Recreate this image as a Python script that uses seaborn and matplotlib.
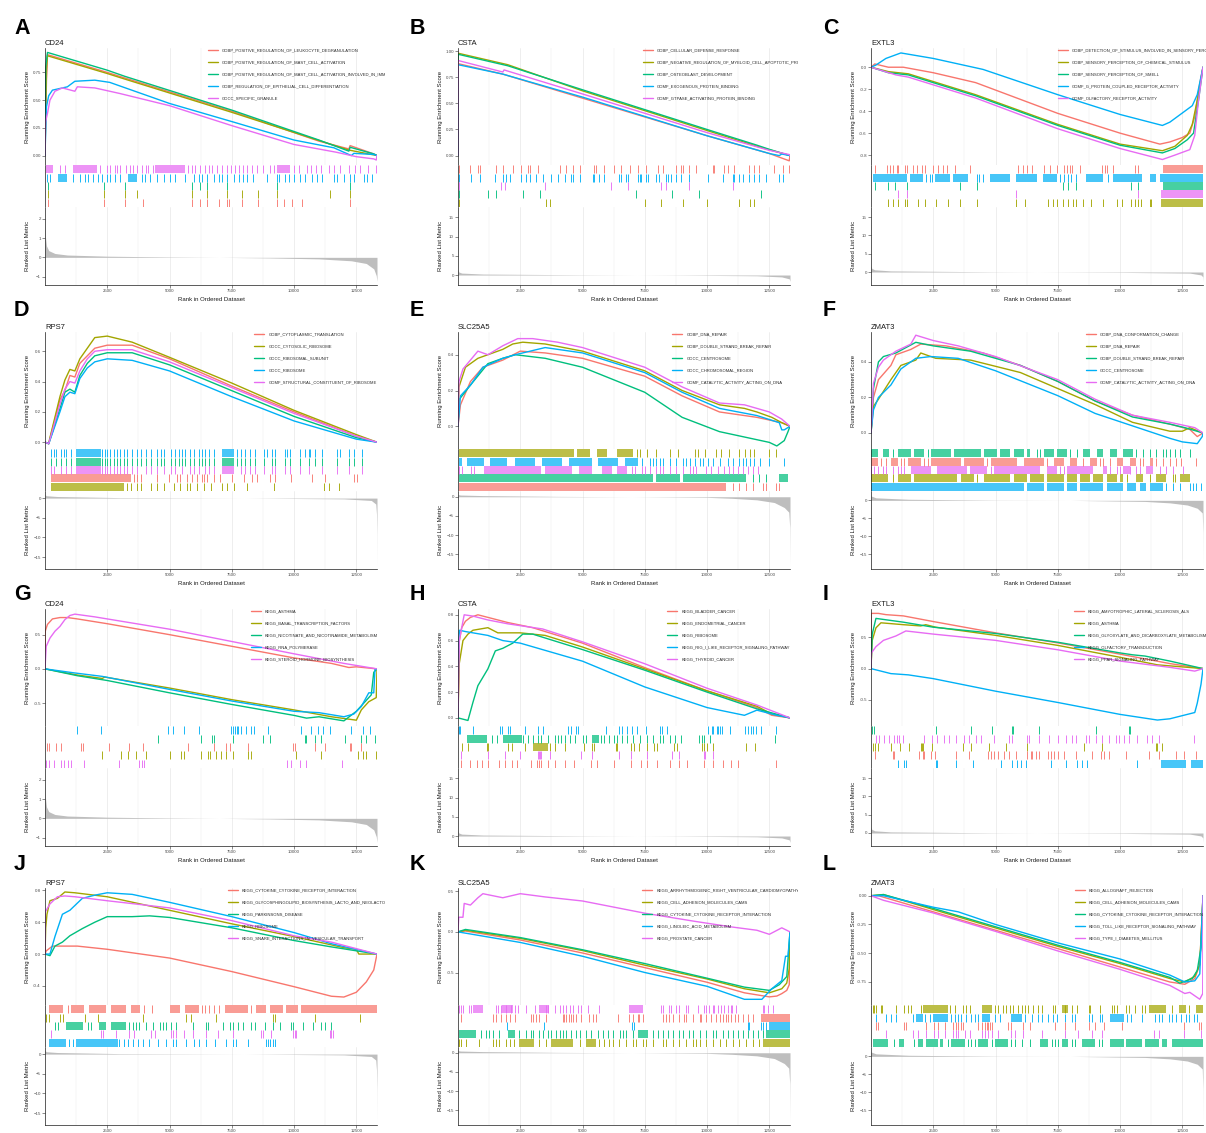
import matplotlib
matplotlib.use('Agg')
import matplotlib.pyplot as plt
from matplotlib.ticker import FuncFormatter
from matplotlib.transforms import Bbox
import pandas as pd
import seaborn as sns

N_GENES = 13330
HUE = ['#F8766D', '#A3A500', '#00BF7D', '#00B0F6', '#E76BF3']
RANK_MAJOR = [2500, 5000, 7500, 10000, 12500]
RANK_MINOR = [1250, 3750, 6250, 8750, 11250]

# ---------------- ranked list metrics (rank, value), one per gene ----------------
cd24_metric = [(1, 2.43), (4, 1.6), (15, 1.1), (60, 0.6), (150, 0.35), (400, 0.2), (900, 0.12),
               (2500, 0.06), (5000, 0.02), (7000, 0.0), (9000, -0.03), (11000, -0.08),
               (12300, -0.18), (12900, -0.32), (13200, -0.6), (13300, -0.95), (13330, -1.25)]
csta_metric = [(1, 16.8), (4, 1.4), (30, 0.8), (150, 0.5), (1000, 0.25), (5000, 0.06),
               (9000, -0.05), (12000, -0.2), (13000, -0.5), (13300, -1.0), (13330, -1.65)]
extl3_metric = [(1, 16.7), (4, 1.6), (30, 1.0), (150, 0.6), (800, 0.3), (5000, 0.05),
                (10000, -0.1), (12800, -0.3), (13250, -0.8), (13320, -1.3), (13330, -2.55)]
rps7_metric = [(1, 0.9), (50, 0.6), (500, 0.4), (3000, 0.12), (8000, 0.0), (12000, -0.2),
               (13100, -0.6), (13280, -1.5), (13310, -4.0), (13325, -9.0), (13330, -17.1)]
slc25a5_metric = [(1, 0.57), (100, 0.45), (1000, 0.3), (4000, 0.1), (7000, 0.0), (10000, -0.15),
                  (11000, -0.4), (12000, -0.8), (12700, -1.5), (13100, -2.8), (13280, -4.0),
                  (13320, -8.0), (13330, -17.9)]
zmat3_metric = [(1, 1.6), (10, 1.2), (200, 0.7), (1500, 0.3), (5000, 0.05), (8000, 0.0),
                (11000, -0.3), (12000, -0.7), (12700, -1.3), (13100, -2.2), (13300, -3.5),
                (13325, -9.0), (13330, -18.1)]

cd24_mlim, cd24_mticks = (-1.44, 2.62), [-1, 0, 1, 2]
csta_mlim, csta_mticks = (-2.6, 17.7), [0, 5, 10, 15]
extl3_mlim, extl3_mticks = (-3.55, 17.75), [0, 5, 10, 15]
rps7_mlim, rps7_mticks = (-18.0, 1.8), [-15, -10, -5, 0]
slc25a5_mlim, slc25a5_mticks = (-18.8, 1.5), [-15, -10, -5, 0]
zmat3_mlim, zmat3_mticks = (-19.1, 2.6), [-15, -10, -5, 0]

# ---------------- A: CD24 (GO) ----------------
A_sets = ['GOBP_POSITIVE_REGULATION_OF_LEUKOCYTE_DEGRANULATION',
          'GOBP_POSITIVE_REGULATION_OF_MAST_CELL_ACTIVATION',
          'GOBP_POSITIVE_REGULATION_OF_MAST_CELL_ACTIVATION_INVOLVED_IN_IMMUNE_RESPONSE',
          'GOBP_REGULATION_OF_EPITHELIAL_CELL_DIFFERENTIATION',
          'GOCC_SPECIFIC_GRANULE']
A_es = [
    [(0, 0), (60, 0.68), (80, 0.78), (100, 0.91), (2500, 0.75), (3200, 0.70), (7500, 0.40), (11000, 0.13), (12200, 0.06), (12250, 0.09), (13200, 0.015), (13330, 0)],
    [(0, 0), (60, 0.78), (100, 0.90), (2500, 0.74), (3200, 0.69), (7500, 0.39), (11500, 0.10), (12200, 0.05), (13330, 0)],
    [(0, 0), (30, 0.80), (100, 0.93), (2500, 0.77), (3200, 0.715), (7500, 0.41), (11000, 0.14), (12200, 0.04), (12250, 0.075), (13200, 0.015), (13330, 0)],
    [(0, 0), (60, 0.44), (150, 0.54), (300, 0.59), (900, 0.62), (1200, 0.67), (2000, 0.68), (2600, 0.66), (5000, 0.47), (7600, 0.30), (10000, 0.14), (11600, 0.07), (12300, 0.0), (12400, 0.02), (13200, 0.01), (13330, 0)],
    [(0, 0), (20, 0.30), (100, 0.38), (200, 0.50), (400, 0.58), (700, 0.61), (1200, 0.58), (1300, 0.62), (2000, 0.61), (3000, 0.56), (5000, 0.45), (7500, 0.27), (10000, 0.10), (11700, 0.03), (12500, -0.01), (13200, -0.03), (13300, -0.04), (13330, 0)],
]
A_hits = [
    [130, 2350, 3220, 3930, 5900, 6230, 6500, 7000, 7300, 7380, 7900, 8540, 9310, 9580, 9920, 10320, 12230],
    [130, 2350, 3220, 3690, 5900, 6500, 7300, 7900, 8540, 9310, 11430, 12230],
    [130, 2350, 3220, 5900, 6230, 6500, 7300, 9310, 12230],
    [70, 200, 1140, 1400, 1610, 1740, 1940, 2140, 2280, 2480, 2610, 2810, 3020, 3890, 4020, 4220, 4490, 4760, 5030, 5230, 5630, 5970, 6170, 6300, 6500, 6770, 6970, 7100, 7300, 7570, 7770, 7970, 8110, 8370, 8910, 9310, 9380, 9650, 9780, 9980, 10250, 10450, 10720, 10920, 11120, 11590, 11730, 11990, 12260, 12400, 12800, 12930, 13130],
    [600, 800, 2200, 2480, 2600, 2830, 2900, 3030, 3250, 3400, 3550, 3700, 3900, 4050, 4150, 4350, 5750, 5900, 6040, 6220, 6430, 6600, 6700, 6900, 7100, 7300, 7450, 7620, 7770, 7950, 8100, 8300, 8500, 8750, 9050, 9200, 10000, 10200, 10500, 10700, 10900, 11100, 11400, 11600, 11850, 12200, 12450, 12650, 12950, 13300],
]
A_runs = [[], [], [], [(540, 870), (3350, 3690)], [(60, 330), (1140, 2080), (4420, 5630), (9310, 9850)]]
A_rows = [4, 3, 2, 1, 0]
A_ylim, A_yticks, A_dec = (-0.085, 0.97), [0, 0.25, 0.5, 0.75], 2

# ---------------- B: CSTA (GO) ----------------
B_sets = ['GOBP_CELLULAR_DEFENSE_RESPONSE',
          'GOBP_NEGATIVE_REGULATION_OF_MYELOID_CELL_APOPTOTIC_PROCESS',
          'GOBP_OSTEOBLAST_DEVELOPMENT',
          'GOMF_EXOGENOUS_PROTEIN_BINDING',
          'GOMF_GTPASE_ACTIVATING_PROTEIN_BINDING']
B_es = [
    [(0, 0), (10, 0.88), (1800, 0.78), (5000, 0.55), (10000, 0.19), (12500, 0.02), (13300, -0.05), (13330, 0)],
    [(0, 0), (5, 0.98), (2000, 0.87), (5000, 0.62), (10000, 0.24), (12000, 0.09), (13330, 0)],
    [(0, 0), (5, 0.97), (2000, 0.86), (5000, 0.63), (10000, 0.25), (12000, 0.10), (12500, 0.06), (13330, 0)],
    [(0, 0), (10, 0.87), (1800, 0.78), (5000, 0.56), (10000, 0.19), (12500, 0.02), (12900, 0.0), (13000, 0.015), (13330, 0)],
    [(0, 0), (10, 0.91), (1800, 0.80), (1850, 0.82), (5000, 0.59), (10000, 0.22), (12500, 0.05), (13300, 0.01), (13330, 0)],
]
B_hits = [
    [40, 470, 800, 870, 1540, 1800, 2210, 2540, 2810, 2880, 3210, 4080, 4350, 4610, 4880, 5480, 5550, 5880, 6280, 6550, 6890, 7220, 7560, 8020, 8220, 8760, 8960, 9030, 9290, 9560, 10230, 10290, 10700, 10830, 11100, 11700, 11900, 12100, 12700, 13040, 13300],
    [40, 3520, 3680, 7510, 8160, 9030, 9990, 11270, 11740, 11870],
    [40, 1200, 1510, 2610, 3280, 7150, 8600, 9690, 12170],
    [40, 530, 870, 1470, 1800, 1940, 2070, 2540, 2740, 2880, 3140, 3410, 3740, 4010, 4280, 4550, 4610, 4880, 5410, 5480, 5680, 5880, 6480, 6550, 6750, 6820, 7220, 7290, 7350, 7560, 7620, 7960, 8090, 8360, 8420, 8560, 8760, 8960, 9290, 10030, 10630, 11030, 11100, 11300, 11430, 11700, 11900, 12100, 12370, 12900, 13040],
    [40, 1740, 1870, 3480, 6150, 6820, 8160, 8360, 9290, 11030],
]
B_runs = [[], [], [], [], []]
B_rows = [0, 3, 4, 2, 1]
B_ylim, B_yticks, B_dec = (-0.09, 1.03), [0, 0.25, 0.5, 0.75, 1.0], 2

# ---------------- C: EXTL3 (GO) ----------------
C_sets = ['GOBP_DETECTION_OF_STIMULUS_INVOLVED_IN_SENSORY_PERCEPTION',
          'GOBP_SENSORY_PERCEPTION_OF_CHEMICAL_STIMULUS',
          'GOBP_SENSORY_PERCEPTION_OF_SMELL',
          'GOMF_G_PROTEIN_COUPLED_RECEPTOR_ACTIVITY',
          'GOMF_OLFACTORY_RECEPTOR_ACTIVITY']
C_es = [
    [(0, 0), (150, 0.03), (700, 0.0), (1300, 0.0), (2500, -0.05), (4200, -0.14), (7500, -0.42), (10000, -0.60), (11600, -0.70), (12000, -0.68), (12500, -0.64), (12800, -0.60), (13000, -0.45), (13200, -0.15), (13330, 0)],
    [(0, 0), (700, -0.04), (1500, -0.06), (4200, -0.25), (7500, -0.52), (10000, -0.70), (11700, -0.76), (12200, -0.72), (12700, -0.62), (12900, -0.52), (13100, -0.3), (13330, 0)],
    [(0, 0), (700, -0.05), (1500, -0.07), (4200, -0.26), (7500, -0.53), (10000, -0.71), (11700, -0.78), (12200, -0.74), (12700, -0.66), (12950, -0.60), (13150, -0.3), (13330, 0)],
    [(0, 0), (200, 0.02), (600, 0.08), (1200, 0.13), (2500, 0.08), (4500, -0.02), (7500, -0.25), (10000, -0.43), (11700, -0.53), (12000, -0.50), (12600, -0.40), (12900, -0.35), (13100, -0.25), (13330, 0)],
    [(0, 0), (1000, -0.07), (1500, -0.09), (4200, -0.28), (7500, -0.56), (10000, -0.74), (11700, -0.84), (12200, -0.80), (12800, -0.75), (13000, -0.62), (13150, -0.3), (13330, 0)],
]
C_hits = [
    [160, 630, 760, 900, 1030, 1100, 1360, 1430, 1700, 1830, 2030, 2170, 2510, 2700, 2900, 3040, 3370, 3980, 5910, 6120, 6260, 6460, 6930, 7190, 7460, 7730, 7860, 8000, 8070, 8400, 9260, 9400, 9460, 9730, 10590, 10720],
    [700, 900, 1100, 1360, 1430, 1900, 2170, 2630, 3100, 3570, 4240, 5840, 6180, 7110, 7310, 7460, 7710, 7920, 8120, 8250, 8520, 8850, 9330, 9860, 10060, 10450, 10590, 10720, 10860, 11190, 11260],
    [160, 700, 960, 1430, 3570, 4240, 7710, 7920, 8250, 10450, 10720],
    [2200, 2350, 2450, 4240, 4350, 4500, 7600, 7750, 7900, 8050, 8250, 9500],
    [1100, 1430, 5840, 10720],
]
C_runs = [[(11730, 13330)], [(11660, 13330)], [(11730, 13330)],
          [(90, 1430), (1560, 2100), (2570, 3170), (3300, 3900), (4780, 5580), (5840, 6650), (6920, 7450), (8650, 9300), (9700, 10900), (11200, 11450), (11600, 13330)],
          [(11660, 13330)]]
C_rows = [0, 3, 2, 4, 1]
C_ylim, C_yticks, C_dec = (-0.89, 0.175), [-0.8, -0.6, -0.4, -0.2, 0.0], 1

# ---------------- D: RPS7 (GO) ----------------
D_sets = ['GOBP_CYTOPLASMIC_TRANSLATION', 'GOCC_CYTOSOLIC_RIBOSOME', 'GOCC_RIBOSOMAL_SUBUNIT',
          'GOCC_RIBOSOME', 'GOMF_STRUCTURAL_CONSTITUENT_OF_RIBOSOME']
D_es = [
    [(0, 0), (150, -0.01), (600, 0.28), (800, 0.34), (1000, 0.44), (1200, 0.43), (1400, 0.52), (1700, 0.57), (2000, 0.62), (2500, 0.64), (3500, 0.64), (5000, 0.55), (7500, 0.37), (10000, 0.20), (12500, 0.04), (13330, 0)],
    [(0, 0), (150, -0.01), (200, 0.03), (600, 0.30), (800, 0.41), (1000, 0.48), (1200, 0.47), (1400, 0.55), (1700, 0.62), (2000, 0.69), (2500, 0.70), (3500, 0.66), (5000, 0.56), (7500, 0.39), (10000, 0.21), (12500, 0.05), (13330, 0)],
    [(0, 0), (150, -0.01), (600, 0.22), (800, 0.33), (1000, 0.35), (1200, 0.33), (1400, 0.44), (1700, 0.52), (2000, 0.57), (2500, 0.59), (3500, 0.59), (5000, 0.51), (7500, 0.34), (10000, 0.17), (12500, 0.03), (13330, 0)],
    [(0, 0), (150, -0.01), (600, 0.20), (800, 0.30), (1000, 0.33), (1200, 0.32), (1400, 0.42), (1700, 0.49), (2000, 0.53), (2500, 0.55), (3500, 0.54), (5000, 0.47), (7500, 0.30), (10000, 0.14), (12500, 0.02), (13330, 0)],
    [(0, 0), (150, -0.01), (600, 0.25), (800, 0.35), (1000, 0.40), (1200, 0.39), (1400, 0.47), (1700, 0.55), (2000, 0.60), (2500, 0.61), (3500, 0.61), (5000, 0.53), (7500, 0.36), (10000, 0.19), (12500, 0.04), (13330, 0)],
]
D_hits = [
    [3570, 3700, 3840, 4500, 4970, 5310, 5440, 5710, 5910, 6110, 6310, 6380, 6510, 6780, 7040, 7510, 7980, 8320, 8520, 9050, 9250, 9860, 10720, 11260, 12390, 12530],
    [3300, 3440, 3700, 3840, 4240, 4500, 4770, 5170, 5440, 5710, 5840, 6110, 6380, 6650, 7110, 7310, 7580, 8120, 9190, 11190, 11390, 11790],
    [230, 430, 630, 830, 1030, 2300, 2400, 2500, 2620, 2770, 2900, 3030, 3170, 3300, 3500, 3700, 3840, 4040, 4240, 4500, 4640, 4770, 5040, 5240, 5370, 5510, 5640, 5840, 5970, 6180, 6310, 6440, 6580, 6780, 7710, 7850, 8050, 8250, 8450, 8790, 9120, 9250, 9650, 9850, 10250, 10590, 10860, 11120, 11720, 12190, 12390, 12730],
    [230, 360, 430, 630, 760, 830, 1030, 2300, 2400, 2500, 2620, 2770, 2900, 3030, 3170, 3300, 3500, 3700, 3840, 4040, 4240, 4500, 4640, 4770, 5040, 5240, 5370, 5510, 5640, 5840, 5970, 6180, 6310, 6440, 6580, 6780, 7710, 7850, 8050, 8250, 8450, 8790, 8920, 9120, 9250, 9650, 9720, 9850, 10250, 10450, 10590, 10660, 10860, 11120, 11720, 11860, 12190, 12390, 12730],
    [230, 360, 630, 830, 1030, 2300, 2400, 2500, 2620, 2770, 2900, 3030, 3170, 3300, 3500, 3700, 4040, 4240, 4500, 4770, 5040, 5240, 5510, 5840, 5970, 6180, 6440, 6580, 6780, 7850, 8050, 8250, 8450, 8790, 9120, 9250, 9650, 9850, 10250, 10590, 11120, 11720, 12190, 12730],
]
D_runs = [[(230, 3440)], [(230, 3170)], [(1230, 2230), (7110, 7580)], [(1230, 2230), (7110, 7580)], [(1230, 2230), (7110, 7580)]]
D_rows = [3, 2, 4, 0, 1]
D_ylim, D_yticks, D_dec = (-0.045, 0.727), [0.0, 0.2, 0.4, 0.6], 1

# ---------------- E: SLC25A5 (GO) ----------------
E_sets = ['GOBP_DNA_REPAIR', 'GOBP_DOUBLE_STRAND_BREAK_REPAIR', 'GOCC_CENTROSOME',
          'GOCC_CHROMOSOMAL_REGION', 'GOMF_CATALYTIC_ACTIVITY_ACTING_ON_DNA']
E_es = [
    [(0, 0), (100, 0.12), (500, 0.25), (1000, 0.33), (1800, 0.37), (2500, 0.42), (3500, 0.41), (5000, 0.38), (7500, 0.28), (9000, 0.17), (10500, 0.08), (12000, 0.05), (13000, 0.02), (13330, 0)],
    [(0, 0), (40, 0.22), (300, 0.33), (800, 0.38), (1200, 0.40), (1800, 0.43), (2200, 0.46), (2600, 0.47), (3500, 0.46), (5000, 0.42), (7500, 0.31), (9000, 0.20), (10500, 0.12), (11500, 0.10), (12000, 0.08), (12600, 0.05), (13000, 0.02), (13330, 0)],
    [(0, 0), (50, 0.15), (500, 0.23), (1200, 0.35), (1800, 0.38), (2300, 0.40), (3500, 0.38), (5000, 0.33), (7500, 0.19), (9000, 0.05), (10500, -0.03), (11500, -0.06), (12500, -0.09), (12800, -0.11), (13100, -0.08), (13250, -0.03), (13330, 0)],
    [(0, 0), (100, 0.17), (500, 0.23), (1000, 0.33), (1800, 0.38), (2300, 0.40), (3500, 0.44), (5000, 0.41), (7500, 0.30), (9000, 0.19), (10500, 0.10), (12000, 0.06), (12900, 0.02), (13000, -0.02), (13100, -0.02), (13330, 0)],
    [(0, 0), (40, 0.25), (200, 0.32), (800, 0.42), (1200, 0.40), (1800, 0.45), (2400, 0.49), (3000, 0.49), (4000, 0.47), (5000, 0.44), (7500, 0.33), (9000, 0.22), (10500, 0.13), (11500, 0.12), (12500, 0.08), (13000, 0.04), (13330, 0)],
]
E_hits = [
    [11040, 11300, 11570, 11840, 12240, 12370, 12770, 12900],
    [7170, 7300, 7570, 7970, 8500, 8840, 9510, 9640, 9900, 10370, 10570, 10900, 11270, 11510, 11730, 11900, 12500, 12770],
    [11840, 12100, 12370],
    [7400, 7710, 7840, 7970, 8100, 8240, 8510, 8770, 9040, 9170, 9300, 9500, 9710, 9840, 10040, 10240, 10500, 10840, 11040, 11300, 11440, 11570, 11710, 11900, 12110, 12500, 13100],
    [40, 170, 510, 640, 6970, 7110, 7370, 7500, 7710, 7970, 8110, 8240, 8500, 8770, 9040, 9300, 9440, 9570, 9970, 10170, 10440, 10700, 10900, 11040, 11240, 11440, 11640, 11840, 12040],
]
E_runs = [[(40, 10770)],
          [(40, 4640), (4770, 5300), (5570, 5970), (6370, 7040)],
          [(40, 7840), (7970, 8900), (9040, 11570), (12900, 13230)],
          [(40, 150), (370, 1040), (1300, 1970), (2300, 3100), (3370, 4170), (4440, 5370), (5640, 6440), (6710, 7240)],
          [(1040, 3340), (3500, 4570), (4840, 5370), (5770, 6170), (6370, 6770)]]
E_rows = [1, 3, 4, 2, 0]
E_ylim, E_yticks, E_dec = (-0.127, 0.527), [0.0, 0.2, 0.4], 1

# ---------------- F: ZMAT3 (GO) ----------------
F_sets = ['GOBP_DNA_CONFORMATION_CHANGE', 'GOBP_DNA_REPAIR', 'GOBP_DOUBLE_STRAND_BREAK_REPAIR',
          'GOCC_CENTROSOME', 'GOMF_CATALYTIC_ACTIVITY_ACTING_ON_DNA']
F_es = [
    [(0, 0), (100, 0.20), (300, 0.30), (800, 0.38), (1000, 0.44), (1600, 0.47), (2000, 0.50), (3000, 0.49), (4500, 0.45), (6000, 0.38), (7500, 0.29), (9000, 0.18), (10500, 0.10), (12000, 0.05), (12800, 0.02), (13100, -0.02), (13330, 0)],
    [(0, 0), (100, 0.15), (300, 0.19), (800, 0.30), (1200, 0.38), (1800, 0.41), (2000, 0.45), (2600, 0.42), (4000, 0.41), (6000, 0.34), (7500, 0.25), (9000, 0.16), (10500, 0.06), (12000, 0.01), (12500, 0.01), (12800, 0.03), (13330, 0)],
    [(0, 0), (100, 0.25), (300, 0.40), (500, 0.43), (1000, 0.45), (1800, 0.51), (2500, 0.49), (4000, 0.46), (6000, 0.38), (7500, 0.29), (9000, 0.18), (10500, 0.09), (12000, 0.05), (12600, 0.03), (13330, 0)],
    [(0, 0), (100, 0.13), (300, 0.20), (800, 0.27), (1200, 0.36), (1800, 0.42), (2400, 0.43), (3500, 0.42), (5000, 0.35), (7500, 0.21), (9000, 0.11), (10500, 0.04), (12000, -0.03), (12500, -0.05), (13100, -0.06), (13300, -0.02), (13330, 0)],
    [(0, 0), (100, 0.28), (300, 0.37), (500, 0.41), (1000, 0.46), (1600, 0.50), (1800, 0.55), (2500, 0.52), (3500, 0.49), (5000, 0.43), (7500, 0.30), (9000, 0.19), (10500, 0.10), (12000, 0.06), (13000, 0.03), (13330, 0)],
]
F_hits = [
    [400, 600, 1200, 1330, 2130, 2270, 4660, 7060, 8530, 9200, 9330, 9600, 10800, 10930, 11460, 11730, 11990, 12260, 12460, 13060],
    [870, 4260, 10260, 11200, 12130, 12200],
    [870, 2270, 6670, 6800, 8000, 8260, 10660, 10930, 11200, 11460, 11730, 11860, 12000, 12190, 12400, 12800],
    [11860, 12130, 12400, 12800, 12930, 13060, 13260],
    [0, 130, 270, 470, 600, 870, 1070, 1200, 1330, 4800, 7600, 7730, 9600, 9860, 10000, 10400, 10660, 10800, 11600, 11860, 12130, 12530],
]
F_runs = [[(0, 270), (800, 1070), (1470, 2000), (2400, 3600), (3730, 4530), (4800, 5860), (6130, 6930), (7330, 7730), (8000, 8260), (8800, 9060), (9860, 10130), (10400, 10660), (11200, 11330)],
          [(0, 670), (1070, 1600), (1730, 3470), (3600, 4130), (4530, 5600), (5730, 6270), (6400, 6930), (7060, 7730), (7860, 8260), (8400, 8800), (8930, 9330), (9460, 9860), (10000, 10130), (10660, 10930), (11460, 11860), (12400, 12800)],
          [(0, 270), (470, 730), (1070, 1600), (1730, 2130), (2400, 3200), (3330, 4400), (4530, 5070), (5200, 5600), (5730, 6130), (6270, 6400), (6930, 7330), (7460, 7860), (8530, 8800), (9060, 9330), (9600, 9860), (10130, 10530)],
          [(0, 6130), (6270, 6930), (7060, 7730), (7860, 8260), (8400, 9330), (9460, 10130), (10260, 10660), (10800, 11060), (11200, 11730)],
          [(1600, 2400), (2670, 3870), (3960, 4660), (4930, 6800), (7060, 7460), (7860, 8930), (9330, 9470), (10130, 10400), (11060, 11330)]]
F_rows = [2, 0, 4, 1, 3]
F_ylim, F_yticks, F_dec = (-0.09, 0.568), [0.0, 0.2, 0.4], 1

# ---------------- G: CD24 (KEGG) ----------------
G_sets = ['KEGG_ASTHMA', 'KEGG_BASAL_TRANSCRIPTION_FACTORS', 'KEGG_NICOTINATE_AND_NICOTINAMIDE_METABOLISM',
          'KEGG_RNA_POLYMERASE', 'KEGG_STEROID_HORMONE_BIOSYNTHESIS']
G_es = [
    [(0, 0), (10, 0.55), (100, 0.65), (300, 0.73), (600, 0.75), (900, 0.75), (1300, 0.73), (2500, 0.66), (5000, 0.50), (7500, 0.33), (10000, 0.16), (11500, 0.08), (12200, 0.02), (12500, 0.03), (13330, 0)],
    [(0, 0), (1300, -0.09), (2300, -0.14), (2400, -0.12), (5000, -0.28), (7500, -0.45), (10000, -0.60), (11500, -0.70), (12500, -0.75), (12700, -0.60), (13000, -0.48), (13300, -0.42), (13330, 0)],
    [(0, 0), (1300, -0.10), (2500, -0.17), (5000, -0.35), (7500, -0.52), (10000, -0.68), (10500, -0.72), (11000, -0.70), (12000, -0.76), (12500, -0.62), (12800, -0.50), (13100, -0.38), (13200, -0.05), (13330, 0)],
    [(0, 0), (1200, -0.06), (2300, -0.11), (5000, -0.30), (7500, -0.47), (10000, -0.62), (11000, -0.64), (12000, -0.70), (12400, -0.66), (12700, -0.55), (13000, -0.35), (13200, -0.35), (13250, 0), (13330, 0)],
    [(0, 0), (50, 0.33), (200, 0.45), (400, 0.55), (600, 0.62), (800, 0.72), (1000, 0.78), (1200, 0.80), (2000, 0.76), (5000, 0.58), (7500, 0.40), (10000, 0.22), (12000, 0.08), (13330, 0)],
]
G_hits = [
    [80, 150, 440, 640, 1450, 1510, 2590, 3390, 3930, 5740, 6770, 7280, 7410, 8150, 9960, 10030, 10830, 11230, 12230, 12300, 12700],
    [2290, 3060, 3320, 3660, 4060, 5000, 5470, 5600, 6270, 6540, 6610, 6870, 7080, 7280, 7540, 8150, 8280, 10060, 11100, 12570, 12770, 12900, 13280],
    [4530, 6270, 6700, 6770, 7540, 8750, 9020, 10430, 10490, 10830, 11100, 12030, 12700, 12900, 13240],
    [1270, 2250, 4930, 5130, 5600, 6200, 7480, 7550, 7620, 7700, 7750, 7880, 8090, 8280, 8380, 8950, 10290, 10700, 10960, 11160, 11430, 12300, 12770, 13040, 13310],
    [40, 170, 380, 640, 780, 910, 1050, 1580, 2960, 3790, 3900, 3990, 9720, 9890, 10220, 10490, 11940],
]
G_runs = [[], [], [], [], []]
G_rows = [3, 2, 0, 1, 4]
G_ylim, G_yticks, G_dec = (-0.835, 0.875), [-0.5, 0.0, 0.5], 1

# ---------------- H: CSTA (KEGG) ----------------
H_sets = ['KEGG_BLADDER_CANCER', 'KEGG_ENDOMETRIAL_CANCER', 'KEGG_RIBOSOME',
          'KEGG_RIG_I_LIKE_RECEPTOR_SIGNALING_PATHWAY', 'KEGG_THYROID_CANCER']
H_es = [
    [(0, 0), (50, 0.59), (150, 0.70), (300, 0.75), (500, 0.78), (800, 0.80), (1200, 0.78), (2000, 0.74), (3000, 0.70), (5000, 0.58), (7500, 0.39), (10000, 0.21), (12000, 0.08), (12600, 0.02), (13330, 0)],
    [(0, 0), (50, 0.42), (200, 0.60), (400, 0.65), (600, 0.68), (1200, 0.70), (1600, 0.66), (2500, 0.66), (3500, 0.64), (5000, 0.55), (7500, 0.38), (10000, 0.21), (12000, 0.09), (12600, 0.03), (13330, 0)],
    [(0, 0), (400, -0.02), (600, 0.12), (800, 0.25), (1200, 0.38), (1500, 0.52), (1800, 0.54), (2200, 0.58), (2600, 0.65), (3000, 0.65), (5000, 0.53), (7500, 0.37), (10000, 0.20), (12000, 0.07), (13330, 0)],
    [(0, 0), (30, 0.57), (60, 0.68), (300, 0.67), (1200, 0.64), (1800, 0.60), (2500, 0.58), (5000, 0.44), (7500, 0.24), (10000, 0.08), (11500, 0.02), (12000, 0.06), (12800, 0.02), (13330, 0)],
    [(0, 0), (50, 0.60), (250, 0.80), (600, 0.79), (1200, 0.76), (2000, 0.73), (3400, 0.69), (5000, 0.59), (7500, 0.42), (10000, 0.23), (12000, 0.10), (13330, 0)],
]
H_hits = [
    [130, 490, 760, 960, 1200, 1650, 1890, 2150, 2350, 2950, 3190, 3240, 3350, 3610, 3880, 4280, 4670, 5340, 5600, 6270, 6930, 7330, 7600, 7990, 8530, 8860, 9190, 9860, 10250, 10650, 10980, 11250, 12780],
    [160, 420, 1160, 1220, 2020, 2150, 2680, 3680, 3880, 4280, 5070, 5400, 5470, 6330, 6400, 6930, 7070, 7260, 7600, 7860, 7990, 8660, 8790, 9790, 9860, 9990, 10250, 11580, 11910],
    [1350, 1550, 2620, 2830, 3020, 3210, 3340, 3610, 3880, 4010, 4140, 4280, 4480, 4680, 5010, 5140, 5740, 5870, 6070, 6270, 6400, 6600, 6800, 7040, 7310, 7570, 7840, 8100, 8240, 8500, 8700, 8970, 9660, 9790, 9860, 10120, 12710],
    [30, 90, 620, 1690, 1750, 2020, 2080, 2680, 3210, 3410, 4410, 4540, 4740, 4810, 5940, 6470, 6600, 6800, 7000, 7200, 7530, 8130, 8190, 8400, 10050, 10190, 10250, 10390, 10450, 10520, 10590, 10920, 11510, 11650, 11780, 11850, 11980, 12180, 12780],
    [130, 1200, 1890, 2480, 3210, 3240, 3280, 3350, 3680, 4940, 5400, 6470, 6930, 7600, 8590, 8860, 9860, 9920, 10250],
]
H_runs = [[], [(3010, 3610)], [(360, 1160), (1820, 2560), (5380, 5650)], [], []]
H_rows = [3, 2, 1, 4, 0]
H_ylim, H_yticks, H_dec = (-0.063, 0.845), [0.0, 0.2, 0.4, 0.6, 0.8], 1

# ---------------- I: EXTL3 (KEGG) ----------------
I_sets = ['KEGG_AMYOTROPHIC_LATERAL_SCLEROSIS_ALS', 'KEGG_ASTHMA', 'KEGG_GLYOXYLATE_AND_DICARBOXYLATE_METABOLISM',
          'KEGG_OLFACTORY_TRANSDUCTION', 'KEGG_PPAR_SIGNALING_PATHWAY']
I_es = [
    [(0, 0), (5, 0.88), (300, 0.88), (600, 0.86), (1300, 0.84), (2500, 0.75), (5000, 0.57), (7500, 0.41), (10000, 0.23), (12000, 0.08), (13330, 0)],
    [(0, 0), (50, 0.45), (200, 0.65), (400, 0.73), (1300, 0.70), (2000, 0.68), (2200, 0.70), (2600, 0.66), (5000, 0.53), (7500, 0.37), (10000, 0.18), (11500, 0.06), (13330, 0)],
    [(0, 0), (50, 0.55), (200, 0.80), (1300, 0.74), (2500, 0.66), (5000, 0.56), (7500, 0.42), (10000, 0.25), (10500, 0.22), (11000, 0.20), (12000, 0.12), (13330, 0)],
    [(0, 0), (800, -0.08), (1500, -0.10), (2500, -0.16), (5000, -0.36), (7500, -0.54), (10000, -0.73), (11500, -0.82), (12000, -0.80), (12500, -0.75), (13000, -0.70), (13100, -0.55), (13250, -0.25), (13330, 0)],
    [(0, 0), (20, 0.25), (200, 0.35), (500, 0.45), (1000, 0.52), (1400, 0.60), (2500, 0.55), (5000, 0.45), (7500, 0.30), (10000, 0.12), (12000, 0.02), (13000, -0.04), (13330, 0)],
]
I_hits = [
    [170, 870, 940, 1940, 2070, 2140, 2410, 2580, 3410, 3940, 4680, 4810, 4950, 5080, 5350, 5550, 5820, 6280, 6420, 6480, 6620, 6750, 7090, 7220, 7350, 7490, 7760, 8220, 8890, 9230, 9360, 9560, 10230, 11160, 11570, 12240, 12570, 13040],
    [90, 160, 270, 800, 1160, 1540, 2010, 2050, 2100, 2470, 3680, 4010, 4750, 5420, 6280, 8560, 9290, 11430, 11500, 11700],
    [40, 130, 2610, 4010, 4850, 5650, 5710, 6730, 9030, 10340, 10390],
    [1070, 1340, 1400, 2610, 2670, 3410, 4080, 5210, 5680, 5880, 6020, 6220, 7220, 7820, 8290, 8490, 8690, 10700],
    [200, 330, 530, 740, 940, 1030, 1140, 1270, 2140, 2470, 2670, 2940, 3140, 3410, 3740, 3940, 4210, 4410, 4950, 5550, 5680, 6280, 6350, 6750, 7150, 7490, 7820, 8090, 8220, 8620, 8760, 9020, 9290, 9560, 9830, 9960, 10160, 10360, 10700, 11100, 11300, 11570, 12970],
]
I_runs = [[], [], [], [(11630, 12640), (12840, 13330)], []]
I_rows = [2, 4, 1, 0, 3]
I_ylim, I_yticks, I_dec = (-0.915, 0.95), [-0.5, 0.0, 0.5], 1

# ---------------- J: RPS7 (KEGG) ----------------
J_sets = ['KEGG_CYTOKINE_CYTOKINE_RECEPTOR_INTERACTION',
          'KEGG_GLYCOSPHINGOLIPID_BIOSYNTHESIS_LACTO_AND_NEOLACTO_SERIES',
          'KEGG_PARKINSONS_DISEASE', 'KEGG_RIBOSOME', 'KEGG_SNARE_INTERACTIONS_IN_VESICULAR_TRANSPORT']
J_es = [
    [(0, 0), (50, 0.04), (300, 0.10), (1300, 0.10), (2500, 0.06), (5000, -0.05), (7500, -0.22), (10000, -0.41), (11500, -0.53), (12000, -0.54), (12500, -0.48), (12900, -0.35), (13200, -0.20), (13330, 0)],
    [(0, 0), (30, 0.33), (80, 0.50), (200, 0.67), (500, 0.70), (800, 0.78), (1200, 0.77), (2500, 0.72), (5000, 0.55), (7500, 0.38), (10000, 0.22), (12000, 0.08), (12500, 0.06), (12600, 0.0), (13330, 0)],
    [(0, 0), (200, -0.02), (400, 0.10), (700, 0.15), (1000, 0.23), (1500, 0.32), (2000, 0.40), (2500, 0.47), (3500, 0.47), (4200, 0.48), (5000, 0.46), (7500, 0.33), (10000, 0.17), (11500, 0.09), (13330, 0)],
    [(0, 0), (200, 0.0), (400, 0.22), (700, 0.50), (1000, 0.55), (1500, 0.70), (2000, 0.74), (2500, 0.77), (3500, 0.75), (5000, 0.65), (7500, 0.47), (10000, 0.27), (11500, 0.13), (13330, 0)],
    [(0, 0), (10, 0.53), (200, 0.63), (500, 0.72), (800, 0.73), (1200, 0.72), (2500, 0.67), (5000, 0.58), (7500, 0.42), (10000, 0.23), (11500, 0.15), (13330, 0)],
]
J_hits = [
    [910, 3990, 4300, 6300, 6430, 6570, 6770, 6970, 8280],
    [40, 150, 620, 710, 1620, 2120, 3950, 5670, 5870, 6870, 9150, 9220, 10830, 12640],
    [420, 510, 1710, 1850, 3390, 3530, 3660, 3790, 4060, 4330, 4600, 4730, 4860, 5070, 5270, 5940, 6470, 6540, 7140, 7410, 7540, 7750, 7950, 8280, 8420, 8820, 9150, 9420, 9890, 9960, 10360, 10760, 11100, 11230, 11500],
    [980, 1110, 2990, 3190, 3320, 3520, 3720, 3930, 4190, 4530, 4860, 5130, 5270, 5670, 6000, 6200, 6470, 6810, 7280, 7540, 7680, 8150, 8880, 8950, 9020, 9150, 9220],
    [240, 2250, 2320, 2850, 3390, 3590, 4260, 4400, 5070, 5130, 5270, 5600, 5940, 6470, 6940, 7540, 8680, 8750, 9090, 9960, 10030, 10090, 11430, 11500, 11560],
]
J_runs = [[(170, 710), (1050, 1580), (1780, 2460), (2660, 3260), (3460, 3800), (5030, 5430), (5630, 6170), (7210, 8150), (8480, 8880), (9020, 9560), (9690, 10160), (10290, 13330)],
          [], [(840, 1510), (2180, 2450), (2650, 3260)], [(170, 840), (1250, 2920)], []]
J_rows = [0, 1, 2, 4, 3]
J_ylim, J_yticks, J_dec = (-0.64, 0.83), [-0.4, 0.0, 0.4, 0.8], 1

# ---------------- K: SLC25A5 (KEGG) ----------------
K_sets = ['KEGG_ARRHYTHMOGENIC_RIGHT_VENTRICULAR_CARDIOMYOPATHY_ARVC',
          'KEGG_CELL_ADHESION_MOLECULES_CAMS', 'KEGG_CYTOKINE_CYTOKINE_RECEPTOR_INTERACTION',
          'KEGG_LINOLEIC_ACID_METABOLISM', 'KEGG_PROSTATE_CANCER']
K_es = [
    [(0, 0), (300, 0.01), (2500, -0.10), (5000, -0.26), (7500, -0.44), (10000, -0.62), (11500, -0.75), (12500, -0.80), (12800, -0.79), (13000, -0.76), (13200, -0.72), (13300, -0.65), (13330, 0)],
    [(0, 0), (300, 0.02), (2500, -0.08), (5000, -0.23), (7500, -0.41), (10000, -0.58), (11500, -0.70), (12500, -0.75), (13000, -0.70), (13200, -0.63), (13300, -0.45), (13330, 0)],
    [(0, 0), (300, 0.03), (2500, -0.07), (5000, -0.22), (7500, -0.39), (10000, -0.57), (11500, -0.68), (12500, -0.72), (12900, -0.65), (13200, -0.55), (13330, 0)],
    [(0, 0), (2500, -0.13), (5000, -0.30), (7500, -0.50), (10000, -0.67), (11500, -0.83), (12200, -0.83), (12600, -0.70), (13000, -0.60), (13150, -0.30), (13250, -0.30), (13330, 0)],
    [(0, 0), (30, 0.18), (200, 0.18), (250, 0.35), (500, 0.33), (800, 0.42), (1000, 0.47), (1800, 0.42), (2500, 0.47), (3500, 0.43), (5000, 0.38), (7500, 0.23), (9500, 0.13), (11000, 0.06), (12000, 0.02), (12500, -0.03), (13000, 0.05), (13330, 0)],
]
K_hits = [
    [120, 1390, 1530, 1730, 1930, 2070, 2270, 2940, 3000, 3130, 3270, 3530, 4200, 4270, 4330, 4470, 4530, 4600, 4740, 4950, 5270, 5410, 5540, 6410, 6880, 7010, 7210, 7270, 7410, 8220, 8350, 8490, 8620, 8890, 9090, 9160, 9430, 9700, 9770, 9970, 10170, 10370, 10500, 10640, 10770, 10840, 10970, 11110, 11240, 11440, 11640, 11840],
    [30, 120, 320, 860, 1390, 1530, 1660, 1930, 2070, 2260, 3270, 3530, 4880, 5670, 5880, 6080, 6220, 6480, 6750, 7010, 7140, 7410, 7540, 7810, 8220, 8350, 8620, 8890, 9160, 9430, 9560, 9700, 9960, 10230, 10500, 10770, 11040, 11300, 11570, 11840, 12100],
    [920, 1120, 1260, 1390, 1660, 2460, 2740, 2940, 3000, 3270, 3410, 3610, 3750, 3950, 4080, 4220, 4350, 4550, 4750, 4880, 5150, 5350, 5620, 5820, 6020, 6220, 6490, 6620, 6750, 7010, 7810, 8020, 8220, 8420, 8620, 8890, 9020, 9290, 9430, 9700, 9960, 10230, 10370, 10630, 10840, 11040, 11240, 11440, 11640, 11840, 12040, 12230],
    [1950, 3440, 6980, 7080, 11630, 11690, 12160, 12230, 12360],
    [30, 120, 190, 460, 520, 1530, 1590, 1720, 1940, 2130, 2270, 2410, 2740, 3080, 3550, 3630, 3880, 4080, 4220, 4350, 4480, 4620, 4820, 4950, 5220, 5670, 8150, 8220, 8490, 8550, 8760, 8890, 9150, 9220, 9620, 9890, 9950, 10090, 10220, 10290, 10420, 10560, 10690, 10830, 10960, 11020, 11160, 12230, 12300, 12430, 12630],
]
K_runs = [[(12160, 13330)], [(2460, 3060), (3730, 4600), (5140, 5540), (12230, 13330)],
          [(30, 720), (1990, 2270), (7210, 7610), (12360, 13330)], [(12500, 13330)],
          [(590, 990), (1780, 2200), (3260, 3670), (6880, 7410)]]
K_rows = [4, 0, 3, 2, 1]
K_ylim, K_yticks, K_dec = (-0.9, 0.54), [-0.5, 0.0, 0.5], 1

# ---------------- L: ZMAT3 (KEGG) ----------------
L_sets = ['KEGG_ALLOGRAFT_REJECTION', 'KEGG_CELL_ADHESION_MOLECULES_CAMS',
          'KEGG_CYTOKINE_CYTOKINE_RECEPTOR_INTERACTION', 'KEGG_TOLL_LIKE_RECEPTOR_SIGNALING_PATHWAY',
          'KEGG_TYPE_I_DIABETES_MELLITUS']
L_es = [
    [(0, 0), (300, 0.0), (2500, -0.14), (5000, -0.30), (7500, -0.46), (10000, -0.62), (12000, -0.75), (12600, -0.77), (13000, -0.72), (13200, -0.60), (13330, 0)],
    [(0, 0), (500, 0.01), (2500, -0.12), (5000, -0.28), (7500, -0.44), (10000, -0.59), (12000, -0.72), (12600, -0.75), (13000, -0.70), (13200, -0.60), (13330, 0)],
    [(0, 0), (500, 0.01), (2500, -0.11), (5000, -0.27), (7500, -0.43), (10000, -0.58), (12000, -0.71), (12400, -0.76), (12900, -0.72), (13100, -0.65), (13250, -0.45), (13330, 0)],
    [(0, 0), (500, 0.0), (2500, -0.10), (3500, -0.14), (5000, -0.25), (7500, -0.41), (10000, -0.55), (12000, -0.69), (12600, -0.75), (13000, -0.74), (13200, -0.68), (13330, 0)],
    [(0, 0), (500, -0.04), (2500, -0.15), (5000, -0.31), (7500, -0.48), (10000, -0.64), (12000, -0.78), (12600, -0.85), (12800, -0.84), (13200, -0.90), (13320, -0.85), (13330, 0)],
]
L_hits = [
    [200, 270, 1340, 1410, 2220, 2550, 2690, 2960, 3290, 3430, 3490, 3630, 3700, 4300, 4440, 4570, 4640, 4700, 4770, 4840, 5510, 5640, 6110, 6380, 7390, 7790, 8200, 8740, 9010, 9340, 10080, 12570, 13170, 13250, 13310],
    [70, 130, 200, 400, 430, 1010, 1340, 1480, 1610, 2020, 3160, 3360, 3700, 3830, 3970, 4970, 5110, 5310, 5440, 5580, 5710, 5910, 6050, 6180, 6320, 6520, 6720, 6850, 7320, 7390, 7790, 8070, 8270, 8740, 8800, 9210, 9680, 9740, 9880, 10220, 10350, 10620, 10890, 11020, 12100, 12780],
    [940, 1740, 3090, 3900, 4030, 4170, 4840, 5640, 5780, 6050, 6380, 7260, 7390, 7520, 8070, 8200, 9140, 9280],
    [200, 600, 810, 1010, 1680, 2150, 2350, 3230, 3360, 3490, 3630, 3830, 4030, 4170, 4300, 4970, 5180, 6180, 6450, 6720, 6850, 7120, 7320, 7460, 7790, 8070, 8200, 8740, 8870, 9210, 9280, 10290, 10420, 10890, 11420, 11560, 11690, 11960, 12100, 12230, 12430, 12640, 12770, 12970, 13100, 13310],
    [600, 1680, 1880, 2220, 2550, 2690, 2960, 3290, 3430, 3490, 3760, 3970, 4440, 4570, 4700, 4840, 5110, 5640, 5780, 6110, 6850, 7790, 8330, 8870, 9280, 11360, 11560, 12570, 13240],
]
L_runs = [[], [(2080, 3090), (4440, 4840), (7660, 7930), (11160, 11830), (12370, 12640), (13040, 13330)],
          [(70, 670), (1140, 1340), (1880, 2080), (2220, 2690), (2760, 2890), (3220, 3760), (4300, 4700), (4970, 5510), (6780, 7120), (7660, 7930), (8470, 9010), (9610, 10150), (10220, 10890), (11020, 11560), (11690, 11900), (12100, 13330)],
          [(1810, 2080), (2490, 3090), (4440, 4770), (5640, 6050), (9610, 10150)], []]
L_rows = [1, 3, 0, 4, 2]
L_ylim, L_yticks, L_dec = (-0.95, 0.067), [-0.75, -0.5, -0.25, 0.0], 2

# ---------------- layout (pixels) ----------------
W, H = 1206, 1133
COL_LEFT = [45, 458, 871]
ROW_TOP = [48, 332, 609, 888]
AX_W, ES_H, RUG_H, MET_H = 332, 117, 42, 78
LETTER_X = [14, 410, 823]
LETTER_Y = [28, 310, 594, 864]
LEGEND_X = [0.49, 0.556, 0.563, 0.63, 0.646, 0.647, 0.62, 0.63, 0.61, 0.55, 0.555, 0.613]

PANELS = [
    ('A', 'CD24', A_sets, A_es, A_hits, A_runs, A_rows, A_ylim, A_yticks, A_dec, cd24_metric, cd24_mlim, cd24_mticks),
    ('B', 'CSTA', B_sets, B_es, B_hits, B_runs, B_rows, B_ylim, B_yticks, B_dec, csta_metric, csta_mlim, csta_mticks),
    ('C', 'EXTL3', C_sets, C_es, C_hits, C_runs, C_rows, C_ylim, C_yticks, C_dec, extl3_metric, extl3_mlim, extl3_mticks),
    ('D', 'RPS7', D_sets, D_es, D_hits, D_runs, D_rows, D_ylim, D_yticks, D_dec, rps7_metric, rps7_mlim, rps7_mticks),
    ('E', 'SLC25A5', E_sets, E_es, E_hits, E_runs, E_rows, E_ylim, E_yticks, E_dec, slc25a5_metric, slc25a5_mlim, slc25a5_mticks),
    ('F', 'ZMAT3', F_sets, F_es, F_hits, F_runs, F_rows, F_ylim, F_yticks, F_dec, zmat3_metric, zmat3_mlim, zmat3_mticks),
    ('G', 'CD24', G_sets, G_es, G_hits, G_runs, G_rows, G_ylim, G_yticks, G_dec, cd24_metric, cd24_mlim, cd24_mticks),
    ('H', 'CSTA', H_sets, H_es, H_hits, H_runs, H_rows, H_ylim, H_yticks, H_dec, csta_metric, csta_mlim, csta_mticks),
    ('I', 'EXTL3', I_sets, I_es, I_hits, I_runs, I_rows, I_ylim, I_yticks, I_dec, extl3_metric, extl3_mlim, extl3_mticks),
    ('J', 'RPS7', J_sets, J_es, J_hits, J_runs, J_rows, J_ylim, J_yticks, J_dec, rps7_metric, rps7_mlim, rps7_mticks),
    ('K', 'SLC25A5', K_sets, K_es, K_hits, K_runs, K_rows, K_ylim, K_yticks, K_dec, slc25a5_metric, slc25a5_mlim, slc25a5_mticks),
    ('L', 'ZMAT3', L_sets, L_es, L_hits, L_runs, L_rows, L_ylim, L_yticks, L_dec, zmat3_metric, zmat3_mlim, zmat3_mticks),
]

sns.set_theme(style='white')
plt.rcParams['font.family'] = ['Liberation Sans', 'DejaVu Sans']
plt.rcParams['axes.linewidth'] = 0.5

fig = plt.figure(figsize=(W / 100, H / 100), dpi=100)
fig.patch.set_facecolor('white')

def px_axes(left, top, width, height):
    return fig.add_axes([left / W, 1 - (top + height) / H, width / W, height / H])

def base_style(ax, bottom):
    for side in ['top', 'right']:
        ax.spines[side].set_visible(False)
    ax.spines['bottom'].set_visible(bottom)
    for side in ['left', 'bottom']:
        ax.spines[side].set_color('#1a1a1a')
        ax.spines[side].set_linewidth(0.5)
    ax.set_facecolor('white')
    ax.set_xlim(1, N_GENES)

def add_grid(ax):
    ax.set_xticks(RANK_MAJOR)
    ax.set_xticks(RANK_MINOR, minor=True)
    ax.grid(True, axis='x', which='major', color='#EBEBEB', lw=0.6)
    ax.grid(True, axis='x', which='minor', color='#EBEBEB', lw=0.35)
    ax.grid(False, axis='y')
    ax.set_axisbelow(True)

def ytick_style(ax):
    ax.tick_params(axis='y', left=True, length=2, width=0.4, labelsize=3.2, pad=1,
                   color='#333333', labelcolor='#4D4D4D')

for i, (letter, gene, sets, es, hits, runs, rows, ylim, yticks, dec, metric, mlim, mticks) in enumerate(PANELS):
    r, c = divmod(i, 3)
    left, top = COL_LEFT[c], ROW_TOP[r]
    ax_es = px_axes(left, top, AX_W, ES_H)
    ax_rug = px_axes(left, top + ES_H, AX_W, RUG_H)
    ax_met = px_axes(left, top + ES_H + RUG_H, AX_W, MET_H)

    # running enrichment score
    base_style(ax_es, False)
    add_grid(ax_es)
    for k, pts in enumerate(es):
        df = pd.DataFrame(pts, columns=['rank', 'es'])
        sns.lineplot(data=df, x='rank', y='es', ax=ax_es, color=HUE[k], lw=1.0,
                     estimator=None, sort=False, label=sets[k], legend=False)
    ax_es.set_ylim(*ylim)
    ax_es.set_yticks(yticks)
    ax_es.yaxis.set_major_formatter(FuncFormatter(lambda v, p, d=dec: f'{v:.{d}f}'))
    ytick_style(ax_es)
    ax_es.tick_params(axis='x', which='both', bottom=False, labelbottom=False)
    ax_es.set_xlabel('')
    ax_es.set_ylabel('Running Enrichment Score', fontsize=4.3, color='#1a1a1a')
    ax_es.yaxis.set_label_coords(-15 / AX_W, 0.5)
    ax_es.set_title(gene, loc='left', fontsize=5.5, pad=2.5, color='#1a1a1a')
    leg = ax_es.legend(ax_es.lines[:5], sets, loc='upper left', bbox_to_anchor=(LEGEND_X[i], 1.0),
                       frameon=False, fontsize=3, handlelength=2.4, handletextpad=1.0,
                       labelspacing=1.95, borderaxespad=0, borderpad=0)
    clip = Bbox.from_extents(left, 0, left + AX_W + 8, H)
    for t in leg.get_texts():
        t.set_clip_box(clip)
        t.set_clip_on(True)

    # hit rug
    base_style(ax_rug, False)
    ax_rug.set_ylim(0, 5)
    ax_rug.set_xticks([])
    ax_rug.set_yticks([])
    for pos, k in enumerate(rows):
        y0 = 4 - pos
        if runs[k]:
            ax_rug.broken_barh([(s, e - s) for s, e in runs[k]], (y0 + 0.03, 0.94),
                               facecolors=HUE[k], alpha=0.72, lw=0)
        if hits[k]:
            ax_rug.vlines(hits[k], y0 + 0.03, y0 + 0.97, colors=HUE[k], lw=0.7, alpha=0.9)

    # ranked list metric
    base_style(ax_met, True)
    add_grid(ax_met)
    mdf = pd.DataFrame(metric, columns=['rank', 'metric'])
    ax_met.fill_between(mdf['rank'], 0, mdf['metric'], color='#BEBEBE', lw=0)
    ax_met.set_ylim(*mlim)
    ax_met.set_yticks(mticks)
    ytick_style(ax_met)
    ax_met.tick_params(axis='x', which='major', bottom=True, length=2, width=0.4, labelsize=3.2,
                       pad=1, color='#333333', labelcolor='#4D4D4D')
    ax_met.tick_params(axis='x', which='minor', bottom=False)
    ax_met.set_ylabel('Ranked List Metric', fontsize=4.3, color='#1a1a1a')
    ax_met.yaxis.set_label_coords(-15 / AX_W, 0.5)
    ax_met.set_xlabel('Rank in Ordered Dataset', fontsize=4.3, labelpad=1.0, color='#1a1a1a')

    fig.text(LETTER_X[c] / W, 1 - LETTER_Y[r] / H, letter, fontsize=15.5, fontweight='bold',
             ha='left', va='center', color='black')

fig.savefig('out.png', dpi=100, facecolor='white')
